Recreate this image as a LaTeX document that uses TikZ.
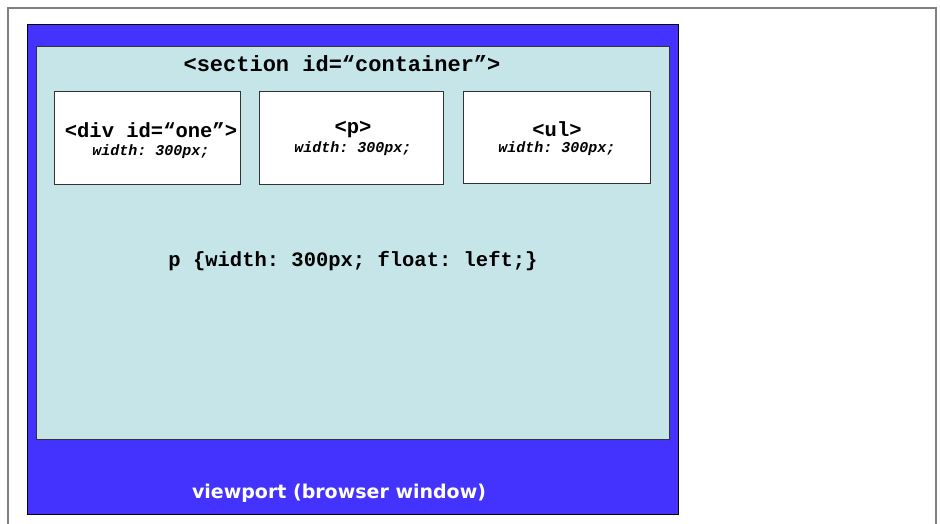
\documentclass[tikz,border=0pt]{standalone}
\usepackage{fontspec}
\setmonofont{Liberation Mono}
\newfontfamily\labelfont{DejaVu Sans}
\definecolor{viewblue}{HTML}{4433FF}
\definecolor{boxfill}{HTML}{C5E5E9}
\definecolor{framegray}{HTML}{808080}
\begin{document}
\begin{tikzpicture}[x=1pt,y=-1pt,
  panel/.style={draw=black!80, line width=0.8pt, anchor=north west, inner sep=0pt},
  elem/.style={panel, fill=white, minimum width=186pt, minimum height=93pt},
  tag/.style={font=\ttfamily\bfseries\fontsize{20.5}{23}\selectfont},
  rule/.style={font=\ttfamily\bfseries\itshape\fontsize{15}{17}\selectfont}]
\useasboundingbox (0,0) rectangle (940,524);
\fill[white] (0,0) rectangle (940,524);
% page frame
\draw[framegray, line width=1.5pt] (8,524) -- (8,8) -- (936,8) -- (936,524);
% viewport and container
\node[panel, fill=viewblue, draw=black, minimum width=651pt, minimum height=490pt] (viewport) at (27,24) {};
\node[panel, fill=boxfill, minimum width=633pt, minimum height=393pt] (container) at (36,46) {};
\node[font=\ttfamily\bfseries\fontsize{22}{25}\selectfont] (sectiontitle) at (342,64) {<section id=“container”>};
% floated children
\node[elem] (one) at (54,91) {};
\node[elem, minimum width=184pt] (para) at (259,91) {};
\node[elem, minimum width=187pt, minimum height=92pt] (list) at (463,91) {};
\node[tag] (onetag) at (151,130) {<div id=“one”>};
\node[rule] (onew) at (151,152) {width: 300px;};
\node[tag] (ptag) at (353,129) {<p>};
\node[rule] (pw) at (353,149) {width: 300px;};
\node[tag] (ultag) at (557,129) {<ul>};
\node[rule] (ulw) at (557,149) {width: 300px;};
% css rule
\node[tag] (css) at (353,261) {p \{width: 300px; float: left;\}};
% caption
\node[text=white, font=\labelfont\bfseries\fontsize{19}{22}\selectfont] (caption) at (339,493) {viewport (browser window)};
\end{tikzpicture}
\end{document}
